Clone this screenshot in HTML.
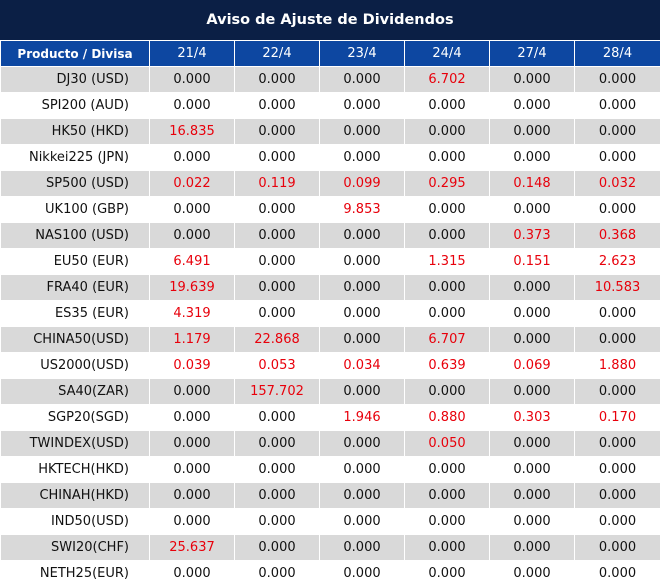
<!DOCTYPE html>
<html><head><meta charset="utf-8"><style>
body{margin:0;width:660px;height:587px;overflow:hidden;background:#fff;font-family:"DejaVu Sans","Liberation Sans",sans-serif;}
.t{position:absolute;left:0;top:0;width:660px;height:40px;background:#0b1f45;color:#fff;font-weight:bold;font-size:14.5px;line-height:40px;text-align:center;}
table{position:absolute;left:0;top:40px;border-collapse:collapse;table-layout:fixed;width:660px;}
td,th{height:25px;padding:0;border:1px solid #fff;font-size:13px;text-align:center;color:#111;overflow:hidden;white-space:nowrap;}
th{background:#0d47a1;color:#fff;font-weight:normal;}
th.f{font-weight:bold;font-size:12px;}
td.f{text-align:right;padding-right:20px;}
tr.g td{background:#d9d9d9;}
.r{color:#e8000b;}
</style></head><body>
<div class="t">Aviso de Ajuste de Dividendos</div>
<table>
<colgroup><col style="width:149px"><col style="width:85px"><col style="width:85px"><col style="width:85px"><col style="width:85px"><col style="width:85px"><col style="width:86px"></colgroup>
<tr><th class="f">Producto / Divisa</th><th>21/4</th><th>22/4</th><th>23/4</th><th>24/4</th><th>27/4</th><th>28/4</th></tr>
<tr class="g"><td class="f">DJ30 (USD)</td><td>0.000</td><td>0.000</td><td>0.000</td><td class="r">6.702</td><td>0.000</td><td>0.000</td></tr>
<tr><td class="f">SPI200 (AUD)</td><td>0.000</td><td>0.000</td><td>0.000</td><td>0.000</td><td>0.000</td><td>0.000</td></tr>
<tr class="g"><td class="f">HK50 (HKD)</td><td class="r">16.835</td><td>0.000</td><td>0.000</td><td>0.000</td><td>0.000</td><td>0.000</td></tr>
<tr><td class="f">Nikkei225 (JPN)</td><td>0.000</td><td>0.000</td><td>0.000</td><td>0.000</td><td>0.000</td><td>0.000</td></tr>
<tr class="g"><td class="f">SP500 (USD)</td><td class="r">0.022</td><td class="r">0.119</td><td class="r">0.099</td><td class="r">0.295</td><td class="r">0.148</td><td class="r">0.032</td></tr>
<tr><td class="f">UK100 (GBP)</td><td>0.000</td><td>0.000</td><td class="r">9.853</td><td>0.000</td><td>0.000</td><td>0.000</td></tr>
<tr class="g"><td class="f">NAS100 (USD)</td><td>0.000</td><td>0.000</td><td>0.000</td><td>0.000</td><td class="r">0.373</td><td class="r">0.368</td></tr>
<tr><td class="f">EU50 (EUR)</td><td class="r">6.491</td><td>0.000</td><td>0.000</td><td class="r">1.315</td><td class="r">0.151</td><td class="r">2.623</td></tr>
<tr class="g"><td class="f">FRA40 (EUR)</td><td class="r">19.639</td><td>0.000</td><td>0.000</td><td>0.000</td><td>0.000</td><td class="r">10.583</td></tr>
<tr><td class="f">ES35 (EUR)</td><td class="r">4.319</td><td>0.000</td><td>0.000</td><td>0.000</td><td>0.000</td><td>0.000</td></tr>
<tr class="g"><td class="f">CHINA50(USD)</td><td class="r">1.179</td><td class="r">22.868</td><td>0.000</td><td class="r">6.707</td><td>0.000</td><td>0.000</td></tr>
<tr><td class="f">US2000(USD)</td><td class="r">0.039</td><td class="r">0.053</td><td class="r">0.034</td><td class="r">0.639</td><td class="r">0.069</td><td class="r">1.880</td></tr>
<tr class="g"><td class="f">SA40(ZAR)</td><td>0.000</td><td class="r">157.702</td><td>0.000</td><td>0.000</td><td>0.000</td><td>0.000</td></tr>
<tr><td class="f">SGP20(SGD)</td><td>0.000</td><td>0.000</td><td class="r">1.946</td><td class="r">0.880</td><td class="r">0.303</td><td class="r">0.170</td></tr>
<tr class="g"><td class="f">TWINDEX(USD)</td><td>0.000</td><td>0.000</td><td>0.000</td><td class="r">0.050</td><td>0.000</td><td>0.000</td></tr>
<tr><td class="f">HKTECH(HKD)</td><td>0.000</td><td>0.000</td><td>0.000</td><td>0.000</td><td>0.000</td><td>0.000</td></tr>
<tr class="g"><td class="f">CHINAH(HKD)</td><td>0.000</td><td>0.000</td><td>0.000</td><td>0.000</td><td>0.000</td><td>0.000</td></tr>
<tr><td class="f">IND50(USD)</td><td>0.000</td><td>0.000</td><td>0.000</td><td>0.000</td><td>0.000</td><td>0.000</td></tr>
<tr class="g"><td class="f">SWI20(CHF)</td><td class="r">25.637</td><td>0.000</td><td>0.000</td><td>0.000</td><td>0.000</td><td>0.000</td></tr>
<tr><td class="f">NETH25(EUR)</td><td>0.000</td><td>0.000</td><td>0.000</td><td>0.000</td><td>0.000</td><td>0.000</td></tr>
</table>
</body></html>
